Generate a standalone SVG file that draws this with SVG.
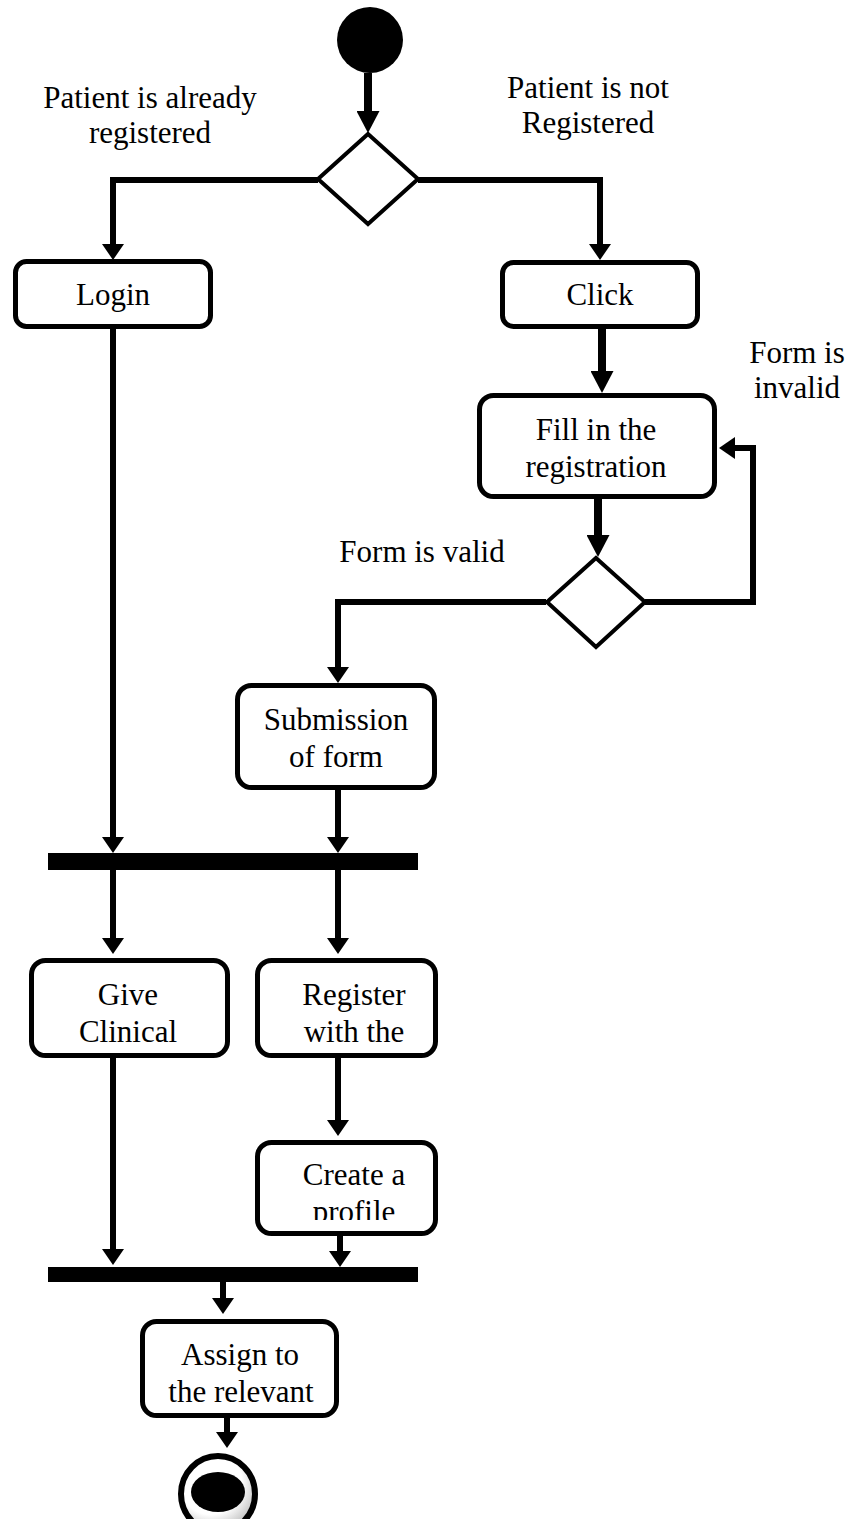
<svg xmlns="http://www.w3.org/2000/svg" width="851" height="1519" viewBox="0 0 851 1519">
  <style>
    .box { fill: #fff; stroke: #000; stroke-width: 5; }
    .dec { fill: #fff; stroke: #000; stroke-width: 4; stroke-linejoin: miter; }
    .bar { fill: #000; }
    .flow { fill: none; stroke: #000; stroke-width: 6; stroke-linejoin: miter; }
    .thick { stroke-width: 8; }
    .lbl { font-size: 31px; fill: #000; text-anchor: middle; }
  </style>
  <defs>
    <marker id="head" viewBox="0 0 22 23" refX="0" refY="11.5" markerWidth="22" markerHeight="23" markerUnits="userSpaceOnUse" orient="auto">
      <path d="M0,0 L22,11.5 L0,23 Z" fill="#000"/>
    </marker>
    <marker id="headSmall" viewBox="0 0 16 22" refX="0" refY="11" markerWidth="16" markerHeight="22" markerUnits="userSpaceOnUse" orient="auto">
      <path d="M0,0 L16,11 L0,22 Z" fill="#000"/>
    </marker>
    <radialGradient id="ringShade" cx="0.4" cy="0.35" r="0.7">
      <stop offset="0.6" stop-color="#ffffff"/>
      <stop offset="1" stop-color="#b8b8b8"/>
    </radialGradient>
    <!-- second line of "Create a profile" is cut off by the box interior -->
    <clipPath id="profileClip">
      <rect x="260" y="1145" width="172" height="75"/>
    </clipPath>
  </defs>

  <!-- connectors -->
  <g id="connectors">
    <path class="flow thick" d="M368,73 V111" marker-end="url(#head)"/>
    <path class="flow" d="M318,180 H113 V244" marker-end="url(#headSmall)"/>
    <path class="flow" d="M418,180 H600 V244" marker-end="url(#headSmall)"/>
    <path class="flow thick" d="M602,329 V371" marker-end="url(#head)"/>
    <path class="flow thick" d="M598,498 V535" marker-end="url(#head)"/>
    <path class="flow" d="M645,602 H753 V448 H735" marker-end="url(#headSmall)"/>
    <path class="flow" d="M546,602 H338 V667" marker-end="url(#headSmall)"/>
    <path class="flow" d="M113,329 V837" marker-end="url(#headSmall)"/>
    <path class="flow" d="M338,790 V837" marker-end="url(#headSmall)"/>
    <path class="flow" d="M113,870 V938" marker-end="url(#headSmall)"/>
    <path class="flow" d="M338,870 V938" marker-end="url(#headSmall)"/>
    <path class="flow" d="M338,1057 V1120" marker-end="url(#headSmall)"/>
    <path class="flow" d="M113,1057 V1249" marker-end="url(#headSmall)"/>
    <path class="flow" d="M340,1236 V1251" marker-end="url(#headSmall)"/>
    <path class="flow" d="M223,1282 V1298" marker-end="url(#headSmall)"/>
    <path class="flow" d="M227,1418 V1432" marker-end="url(#headSmall)"/>
  </g>

  <g font-family="Liberation Serif, Times New Roman, serif">
    <!-- branch labels -->
    <g id="guards">
      <text class="lbl" x="150" y="108">Patient is already</text>
      <text class="lbl" x="150" y="143">registered</text>
      <text class="lbl" x="588" y="98">Patient is not</text>
      <text class="lbl" x="588" y="133">Registered</text>
      <text class="lbl" x="797" y="363">Form is</text>
      <text class="lbl" x="797" y="398">invalid</text>
      <text class="lbl" x="422" y="562">Form is valid</text>
    </g>

    <g id="start">
      <circle cx="370" cy="40" r="33" fill="#000"/>
    </g>

    <g id="decision-registered">
      <polygon class="dec" points="368,134 418,179 368,224 318,179"/>
    </g>

    <g id="login">
      <rect class="box" x="15.5" y="261.5" width="195" height="65" rx="11"/>
      <text class="lbl" x="113" y="305">Login</text>
    </g>

    <g id="click">
      <rect class="box" x="502.5" y="262.5" width="195" height="64" rx="11"/>
      <text class="lbl" x="600" y="305">Click</text>
    </g>

    <g id="fill-form">
      <rect class="box" x="479.5" y="395.5" width="235" height="101" rx="14"/>
      <text class="lbl" x="596" y="440">Fill in the</text>
      <text class="lbl" x="596" y="477">registration</text>
    </g>

    <g id="decision-valid">
      <polygon class="dec" points="596,558 645,602 596,647 547,602"/>
    </g>

    <g id="submission">
      <rect class="box" x="237.5" y="685.5" width="197" height="102" rx="14"/>
      <text class="lbl" x="336" y="730">Submission</text>
      <text class="lbl" x="336" y="767">of form</text>
    </g>

    <g id="fork">
      <rect class="bar" x="48" y="853" width="370" height="17"/>
    </g>

    <g id="give-clinical">
      <rect class="box" x="31.5" y="960.5" width="196" height="95" rx="14"/>
      <text class="lbl" x="128" y="1005">Give</text>
      <text class="lbl" x="128" y="1042">Clinical</text>
    </g>

    <g id="register">
      <rect class="box" x="257.5" y="960.5" width="178" height="95" rx="14"/>
      <text class="lbl" x="354" y="1005">Register</text>
      <text class="lbl" x="354" y="1042">with the</text>
    </g>

    <g id="create-profile">
      <rect class="box" x="257.5" y="1142.5" width="178" height="91" rx="14"/>
      <text class="lbl" x="354" y="1185">Create a</text>
      <text class="lbl" x="354" y="1222" clip-path="url(#profileClip)">profile</text>
    </g>

    <g id="join">
      <rect class="bar" x="48" y="1267" width="370" height="15"/>
    </g>

    <g id="assign">
      <rect class="box" x="142.5" y="1321.5" width="194" height="94" rx="14"/>
      <text class="lbl" x="240" y="1365">Assign to</text>
      <text class="lbl" x="241" y="1402">the relevant</text>
    </g>

    <g id="end">
      <ellipse cx="218" cy="1494" rx="37" ry="38" fill="url(#ringShade)" stroke="#000" stroke-width="6"/>
      <ellipse cx="218" cy="1492" rx="27" ry="20" fill="#000"/>
    </g>
  </g>
</svg>
